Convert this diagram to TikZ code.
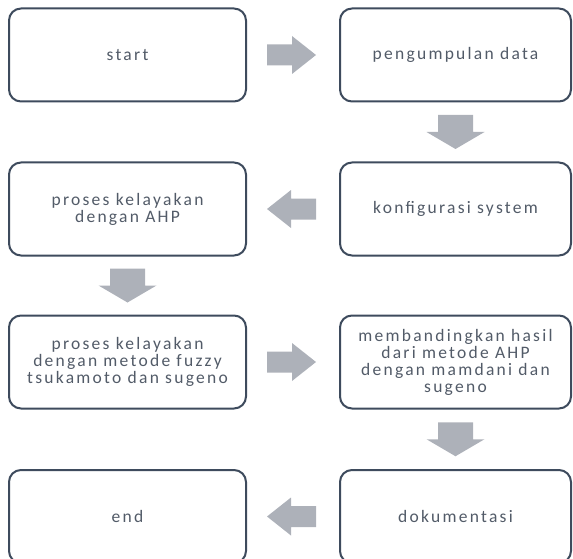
\documentclass[tikz,border=0pt]{standalone}
\usepackage{fontspec}
\setmainfont{Carlito}[LetterSpace=13]
\usetikzlibrary{calc}

\definecolor{boxline}{HTML}{3E4B5D}
\definecolor{arrowgray}{HTML}{ADB1B9}
\definecolor{textgray}{HTML}{525B68}

\tikzset{
  box/.style={draw=boxline, line width=2pt, rounded corners=12pt, fill=white,
    align=center, text=textgray, inner sep=0pt,
    font=\fontsize{17.5}{17}\selectfont},
  boxl/.style={box, minimum width=237pt, minimum height=93pt},
  boxr/.style={box, minimum width=231pt, minimum height=93pt},
  rarrow/.pic={\fill[arrowgray] (-24.5,-10.5) -- (0.5,-10.5) -- (0.5,-19) -- (24.5,0)
    -- (0.5,19) -- (0.5,10.5) -- (-24.5,10.5) -- cycle;},
  darrow/.pic={\fill[arrowgray] (-17.5,-17) -- (17.5,-17) -- (17.5,0) -- (29,0)
    -- (0,17) -- (-29,0) -- (-17.5,0) -- cycle;}
}

\begin{document}
\begin{tikzpicture}[x=1pt,y=-1pt]
    \useasboundingbox (0,0) rectangle (573,559);
    \clip (0,0) rectangle (573,559);
    \node[boxl] (start) at (127.5,55) {start};
    \node[boxr] (data) at (455.5,55) {pengumpulan data};
    \node[boxr] (konfig) at (455.5,209) {konfigurasi system};
    \node[boxl] (ahp) at (127.5,209) {proses kelayakan\\dengan AHP};
    \node[boxl] (fuzzy) at (127.5,362) {proses kelayakan\\dengan metode fuzzy\\tsukamoto dan sugeno};
    \node[boxr] (banding) at (455.5,362) {membandingkan hasil\\dari metode AHP\\dengan mamdani dan\\sugeno};
    \node[boxr] (dok) at (455.5,516.5) {dokumentasi};
    \node[boxl] (finish) at (127.5,516.5) {end};
    \coordinate (m1) at ($(start)!0.5!(data)$);
    \coordinate (m2) at ($(data)!0.5!(konfig)$);
    \coordinate (m3) at ($(konfig)!0.5!(ahp)$);
    \coordinate (m4) at ($(ahp)!0.5!(fuzzy)$);
    \coordinate (m5) at ($(fuzzy)!0.5!(banding)$);
    \coordinate (m6) at ($(banding)!0.5!(dok)$);
    \coordinate (m7) at ($(dok)!0.5!(finish)$);
    \pic at (m1) {rarrow};
    \pic at (m2) {darrow};
    \pic[rotate=180] at (m3) {rarrow};
    \pic at (m4) {darrow};
    \pic at (m5) {rarrow};
    \pic at (m6) {darrow};
    \pic[rotate=180] at (m7) {rarrow};
\end{tikzpicture}
\end{document}
